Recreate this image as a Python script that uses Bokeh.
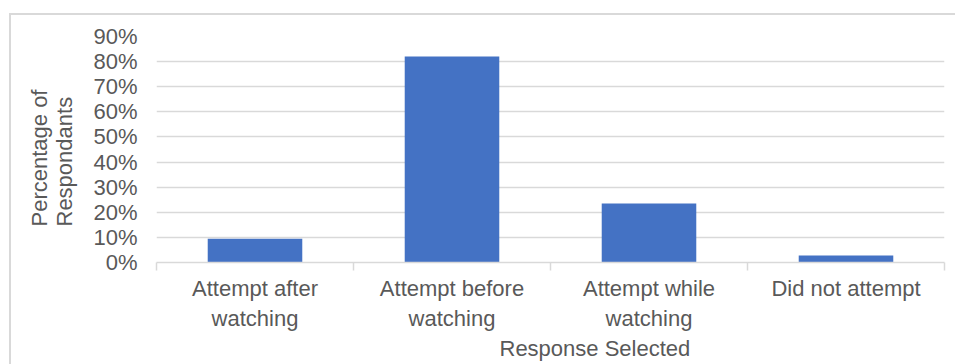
import numpy as np
from bokeh.plotting import figure
from bokeh.models import (ColumnDataSource, Range1d, FixedTicker,
                          NumeralTickFormatter, Title)
from bokeh.embed import file_html
from bokeh.resources import INLINE

# Survey responses
categories = ["Attempt after\nwatching", "Attempt before\nwatching",
              "Attempt while\nwatching", "Did not attempt"]
shares = [0.095, 0.82, 0.235, 0.028]
y_ticks = [0.0, 0.1, 0.2, 0.3, 0.4, 0.5, 0.6, 0.7, 0.8, 0.9]
x_title = "Response Selected"
y_title = "Percentage of\nRespondants"

FONT = "Liberation Sans"
TEXT = "#595959"
GRID = "#d9d9d9"
BAR = "#4472C4"
SIZE = "22px"

W, H = 946, 351
n = len(categories)
centers = np.arange(n) + 0.5
source = ColumnDataSource(dict(x=centers, top=shares))

p = figure(width=W, height=H, output_backend="svg", toolbar_location=None,
           x_range=Range1d(0, n), y_range=Range1d(0, 0.9),
           min_border_left=145, min_border_right=13,
           min_border_top=21, min_border_bottom=104)
p.margin = (13, 0, 0, 9)
p.styles = {"border-left": f"2px solid {GRID}", "border-top": f"2px solid {GRID}"}
p.outline_line_color = None
p.background_fill_color = "white"
p.border_fill_color = "white"

p.vbar(x="x", top="top", width=0.48, source=source, fill_color=BAR,
       line_color=None)

# category axis: labels at centres, tick marks between categories
xa = p.xaxis[0]
xa.ticker = FixedTicker(ticks=list(centers), minor_ticks=list(range(n + 1)))
xa.major_label_overrides = {float(c): lab for c, lab in zip(centers, categories)}
xa.major_tick_line_color = None
xa.minor_tick_line_color = GRID
xa.minor_tick_line_width = 1.5
xa.minor_tick_in = 0
xa.minor_tick_out = 8
xa.axis_line_color = GRID
xa.axis_line_width = 1.5
xa.major_label_standoff = 5
xa.major_label_text_font = FONT
xa.major_label_text_font_size = SIZE
xa.major_label_text_color = TEXT

ya = p.yaxis[0]
ya.ticker = FixedTicker(ticks=y_ticks)
ya.formatter = NumeralTickFormatter(format="0%")
ya.axis_line_color = None
ya.major_tick_line_color = None
ya.minor_tick_line_color = None
ya.major_label_standoff = 13
ya.major_label_text_font = FONT
ya.major_label_text_font_size = SIZE
ya.major_label_text_color = TEXT

p.xgrid.grid_line_color = None
p.ygrid.grid_line_color = GRID
p.ygrid.grid_line_width = 1.5

title_style = dict(text_font=FONT, text_font_size=SIZE, text_color=TEXT,
                   text_font_style="normal")

p.add_layout(Title(text=y_title, align="left", offset=36, standoff=27,
                   **title_style), "left")
p.add_layout(Title(text=x_title, align="left", offset=343, standoff=1,
                   **title_style), "below")

open("out.html", "w").write(file_html(p, INLINE))
